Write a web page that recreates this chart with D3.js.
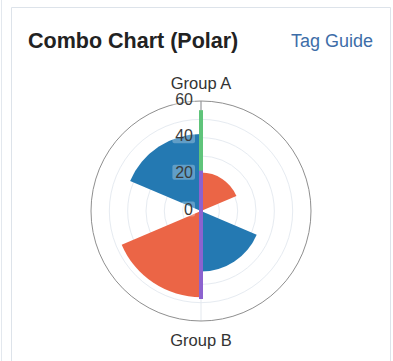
<!DOCTYPE html>
<html>
<head>
<meta charset="utf-8">
<script src="https://cdn.jsdelivr.net/npm/d3@7"></script>
<style>
  html, body { margin: 0; padding: 0; background: #fff; }
  body { width: 393px; height: 361px; overflow: hidden; font-family: "Liberation Sans", Arial, sans-serif; }
  svg { display: block; }
</style>
</head>
<body>
<svg id="chart" width="393" height="361"></svg>
<script>
// Categories around the angle axis
const categories = ["Group A", "Group B"];
// Bar series (sectors)
const barNames = ["Series 1", "Series 2"];
const barSeries1 = [42, 33];
const barSeries2 = [21, 47];
// Line series
const lineSeries1 = [55, 30];
const lineSeries2 = [22, 48];
// Radius axis labels
const radiusTicks = [0, 20, 40, 60];
const gridValues = [10, 20, 30, 40, 50];

const colors = {
  bar1: "#2479b2",
  bar2: "#eb6546",
  line1: "#5fc47a",
  line2: "#8c62cf"
};

const svg = d3.select("#chart");

// Card frame
svg.append("line").attr("x1", 1.5).attr("x2", 1.5).attr("y1", 0).attr("y2", 361)
  .attr("stroke", "#e3e8ee").attr("stroke-width", 1);
svg.append("path")
  .attr("d", "M11.5,361 V7.5 H390.5 V361")
  .attr("fill", "none").attr("stroke", "#dde3ea").attr("stroke-width", 1);

svg.append("text").attr("x", 28).attr("y", 48)
  .attr("font-size", 21.5).attr("font-weight", "bold").attr("fill", "#222")
  .text("Combo Chart (Polar)");
svg.append("text").attr("x", 373).attr("y", 46.5).attr("text-anchor", "end")
  .attr("font-size", 18).attr("fill", "#3d6da8")
  .text("Tag Guide");

const cx = 201, cy = 211, R = 110;
const g = svg.append("g").attr("transform", `translate(${cx},${cy})`);

const r = d3.scaleLinear().domain([0, 60]).range([0, R]);
// Angle axis: one half-turn band per category, Group A centred at the top
const angle = d3.scaleBand().domain(categories).range([-Math.PI / 2, 3 * Math.PI / 2]);
const sub = d3.scaleBand().domain(barNames).range([0, angle.bandwidth()])
  .paddingInner(0).paddingOuter(0.343);
const mid = c => angle(c) + angle.bandwidth() / 2;

// Grid circles
g.selectAll("circle.grid").data(gridValues).join("circle")
  .attr("class", "grid").attr("r", d => r(d))
  .attr("fill", "none").attr("stroke", "#e6ebf1").attr("stroke-width", 1);
// Split lines at the category positions
g.selectAll("line.split").data(categories).join("line")
  .attr("class", "split")
  .attr("x1", 0).attr("y1", 0)
  .attr("x2", d => d3.pointRadial(mid(d), R)[0])
  .attr("y2", d => d3.pointRadial(mid(d), R)[1])
  .attr("stroke", "#e3e8ee").attr("stroke-width", 1);
// Outer circle
g.append("circle").attr("r", r(60)).attr("fill", "none")
  .attr("stroke", "#8f8f8f").attr("stroke-width", 1);

// Bars
const arc = d3.arc().innerRadius(0);
const barData = [
  { name: barNames[0], values: barSeries1, color: colors.bar1 },
  { name: barNames[1], values: barSeries2, color: colors.bar2 }
];
barData.forEach(s => {
  g.selectAll(null).data(categories).join("path")
    .attr("d", (c, i) => {
      const a0 = angle(c) + sub(s.name);
      return arc({ startAngle: a0, endAngle: a0 + sub.bandwidth(), outerRadius: r(s.values[i]) });
    })
    .attr("fill", s.color);
});

// Radius axis line
g.append("line").attr("x1", 0).attr("y1", 0).attr("x2", 0).attr("y2", -r(60))
  .attr("stroke", "#8f8f8f").attr("stroke-width", 1);

// Lines
const lineGen = d3.lineRadial()
  .angle(d => mid(d.c))
  .radius(d => r(d.v));
[[lineSeries1, colors.line1], [lineSeries2, colors.line2]].forEach(([vals, col]) => {
  g.append("path")
    .attr("d", lineGen(categories.map((c, i) => ({ c, v: vals[i] }))))
    .attr("fill", "none").attr("stroke", col).attr("stroke-width", 4);
});

// Radius labels with a soft backdrop
const labels = g.selectAll("g.rlab").data(radiusTicks).join("g")
  .attr("class", "rlab")
  .attr("transform", d => `translate(-8,${-r(d) - 2})`);
labels.append("rect")
  .attr("x", d => -(String(d).length * 8.8) - 3).attr("y", -7.5)
  .attr("width", d => String(d).length * 8.8 + 5).attr("height", 15)
  .attr("rx", 2).attr("fill", "#fff").attr("fill-opacity", 0.28);
labels.append("text")
  .attr("text-anchor", "end").attr("dominant-baseline", "central")
  .attr("font-size", 16).attr("fill", "#3a3a3a")
  .text(d => d);

// Category labels
g.selectAll("text.cat").data(categories).join("text")
  .attr("class", "cat")
  .attr("x", d => d3.pointRadial(mid(d), R)[0])
  .attr("y", (d, i) => i === 0 ? -R - 12.5 : R + 25)
  .attr("text-anchor", "middle")
  .attr("font-size", 16.5).attr("fill", "#333")
  .text(d => d);
</script>
</body>
</html>
